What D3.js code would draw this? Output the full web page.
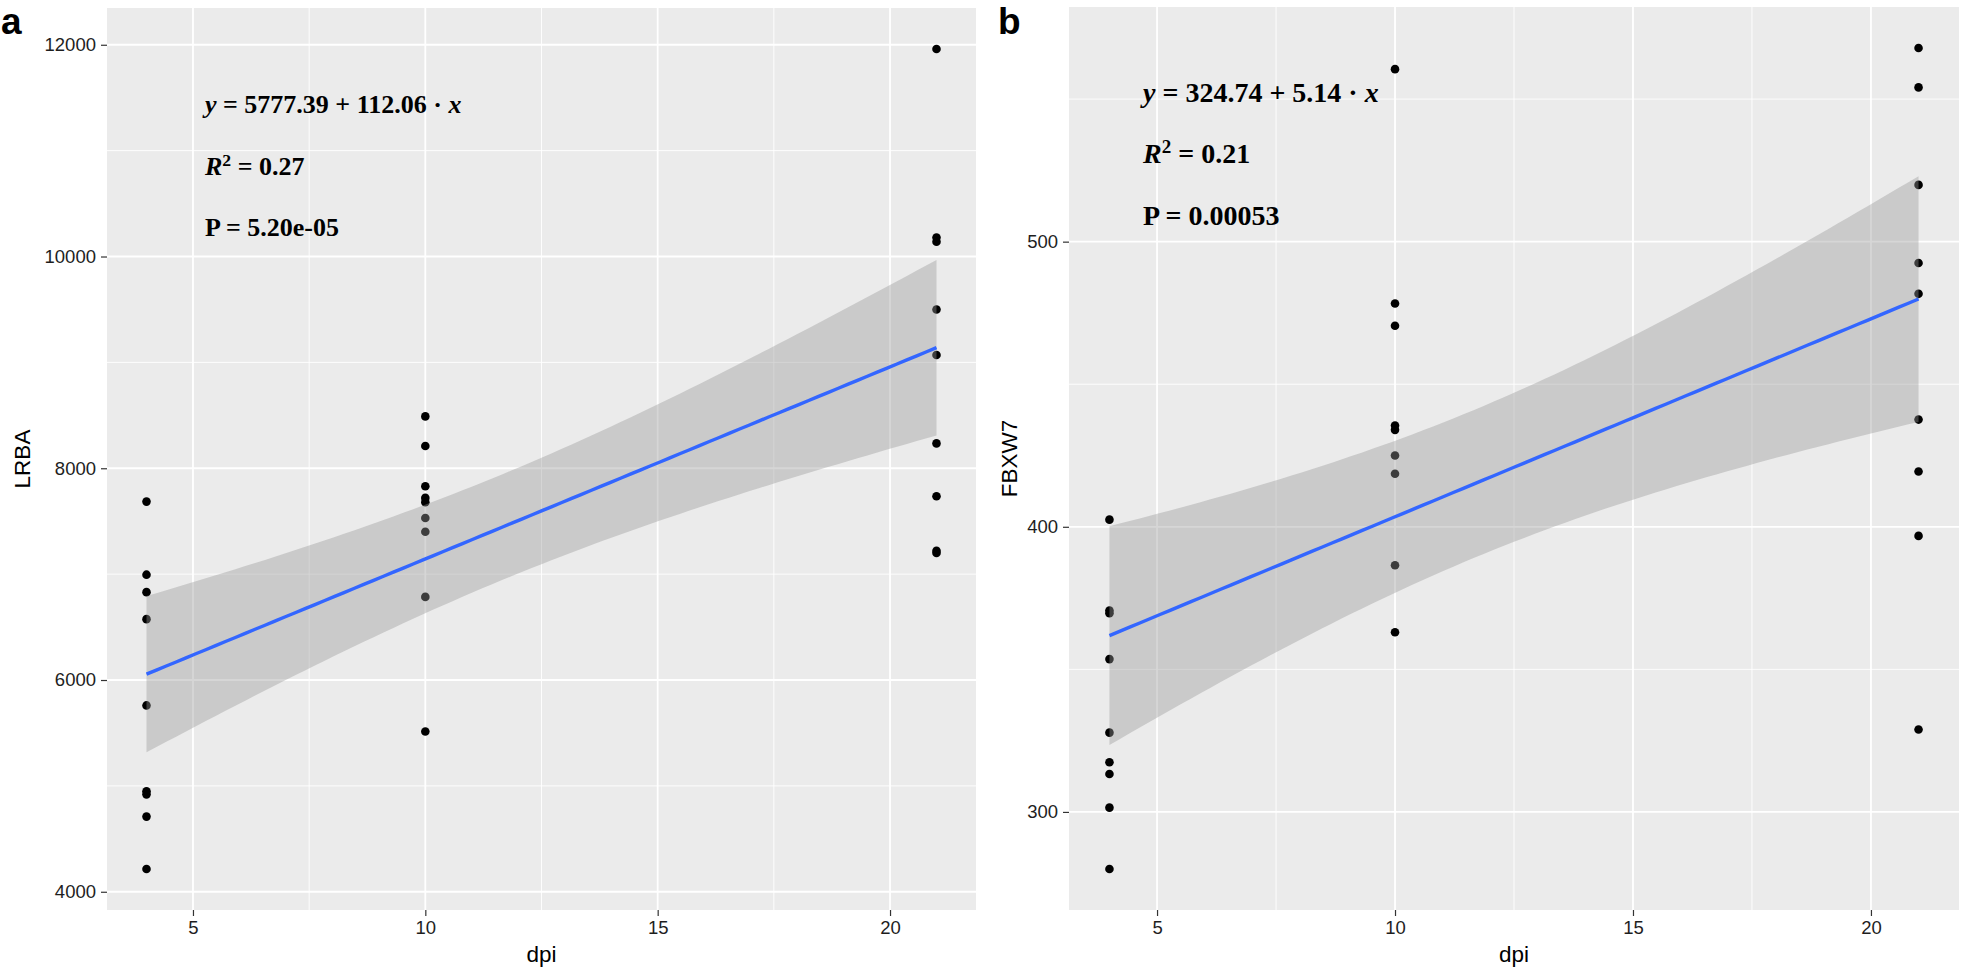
<!DOCTYPE html>
<html>
<head>
<meta charset="utf-8">
<script src="https://cdn.jsdelivr.net/npm/d3@7"></script>
<style>
  html, body { margin: 0; padding: 0; background: #fff; }
  svg { display: block; }
</style>
</head>
<body>
<svg id="chart" width="1961" height="971"></svg>
<script>
// ---------------- data ----------------
const dpi = [4,4,4,4,4,4,4,4,4, 10,10,10,10,10,10,10,10,10, 21,21,21,21,21,21,21,21,21];
const lrba = [7685,6995,6830,6575,5760,4950,4920,4710,4215,
              8490,8210,7830,7720,7680,7530,7400,6785,5513,
              11960,10180,10140,9500,9070,8235,7735,7220,7200];
const fbxw7 = [402.5,370.6,369.7,353.6,327.8,317.4,313.3,301.5,280,
               560.5,478.3,470.5,435.5,434,425,418.6,386.5,363,
               567.9,554.1,519.9,492.5,481.7,437.6,419.4,396.8,328.9];
const xTicks = [5,10,15,20];
const xMinor = [7.5,12.5,17.5];
const yTicksA = [4000,6000,8000,10000,12000];
const yMinorA = [5000,7000,9000,11000];
const yTicksB = [300,400,500];
const yMinorB = [350,450,550];
const annotA = ["5777.39 + 112.06", "0.27", "P = 5.20e-05"];
const annotB = ["324.74 + 5.14", "0.21", "P = 0.00053"];

// ---------------- helpers ----------------
function linfit(xs, ys) {
  const n = xs.length;
  const xb = d3.mean(xs), yb = d3.mean(ys);
  let sxx = 0, sxy = 0;
  for (let i = 0; i < n; i++) { sxx += (xs[i]-xb)**2; sxy += (xs[i]-xb)*(ys[i]-yb); }
  const b = sxy / sxx, a = yb - b*xb;
  let rss = 0;
  for (let i = 0; i < n; i++) rss += (ys[i] - a - b*xs[i])**2;
  const s = Math.sqrt(rss / (n-2));
  const t = 2.0595; // t(0.975, df = 25)
  const x0 = d3.min(xs), x1 = d3.max(xs);
  return d3.range(81).map(i => {
    const x = x0 + i*(x1-x0)/80;
    const f = a + b*x;
    const se = s*Math.sqrt(1/n + (x-xb)**2/sxx);
    return {x, y: f, lo: f - t*se, hi: f + t*se};
  });
}

const svg = d3.select("#chart");
svg.append("rect").attr("width",1961).attr("height",971).attr("fill","#fff");

function panel(cfg) {
  const {left,right,top,bottom,ys,yTicks,yMinor,yTitle,letter,letterX,annot,annotX,annotY,annotSize,ytitleX} = cfg;
  const fitPts = linfit(dpi, ys);
  const xExt = d3.extent(dpi);
  const xPad = (xExt[1]-xExt[0])*0.05;
  const yLo = Math.min(d3.min(ys), d3.min(fitPts, d=>d.lo));
  const yHi = Math.max(d3.max(ys), d3.max(fitPts, d=>d.hi));
  const yPad = (yHi-yLo)*0.05;
  const x = d3.scaleLinear().domain([xExt[0]-xPad, xExt[1]+xPad]).range([left,right]);
  const y = d3.scaleLinear().domain([yLo-yPad, yHi+yPad]).range([bottom,top]);

  const g = svg.append("g");
  g.append("rect").attr("x",left).attr("y",top).attr("width",right-left).attr("height",bottom-top).attr("fill","#EBEBEB");

  // minor grid
  g.selectAll(".vmin").data(xMinor).join("line")
    .attr("x1",d=>x(d)).attr("x2",d=>x(d)).attr("y1",top).attr("y2",bottom)
    .attr("stroke","#fff").attr("stroke-width",0.9);
  g.selectAll(".hmin").data(yMinor).join("line")
    .attr("x1",left).attr("x2",right).attr("y1",d=>y(d)).attr("y2",d=>y(d))
    .attr("stroke","#fff").attr("stroke-width",0.9);
  // major grid
  g.selectAll(".vmaj").data(xTicks).join("line")
    .attr("x1",d=>x(d)).attr("x2",d=>x(d)).attr("y1",top).attr("y2",bottom)
    .attr("stroke","#fff").attr("stroke-width",1.8);
  g.selectAll(".hmaj").data(yTicks).join("line")
    .attr("x1",left).attr("x2",right).attr("y1",d=>y(d)).attr("y2",d=>y(d))
    .attr("stroke","#fff").attr("stroke-width",1.8);

  // points
  g.selectAll(".pt").data(dpi.map((d,i)=>({x:d,y:ys[i]}))).join("circle")
    .attr("cx",d=>x(d.x)).attr("cy",d=>y(d.y)).attr("r",4.3).attr("fill","#000");

  // ribbon + line
  g.append("path").datum(fitPts)
    .attr("d", d3.area().x(d=>x(d.x)).y0(d=>y(d.lo)).y1(d=>y(d.hi)))
    .attr("fill","#999999").attr("fill-opacity",0.4);
  g.append("path").datum(fitPts)
    .attr("d", d3.line().x(d=>x(d.x)).y(d=>y(d.y)))
    .attr("fill","none").attr("stroke","#3366FF").attr("stroke-width",3.4);

  // axes
  const ax = g.append("g").attr("transform",`translate(0,${bottom})`)
    .call(d3.axisBottom(x).tickValues(xTicks).tickSize(6).tickPadding(5).tickFormat(d3.format("d")));
  const ay = g.append("g").attr("transform",`translate(${left},0)`)
    .call(d3.axisLeft(y).tickValues(yTicks).tickSize(6).tickPadding(5).tickFormat(d3.format("d")));
  [ax,ay].forEach(a => {
    a.select(".domain").remove();
    a.selectAll("line").attr("stroke","#333").attr("stroke-width",1.2);
    a.selectAll("text").attr("fill","#1e1e1e").style("font-family","'Liberation Sans', Arial, sans-serif").style("font-size","18.5px");
  });

  // titles
  g.append("text").attr("x",(left+right)/2).attr("y",962).attr("text-anchor","middle")
    .style("font-family","'Liberation Sans', Arial, sans-serif").style("font-size","22.5px").attr("fill","#000").text("dpi");
  g.append("text").attr("transform",`translate(${ytitleX},${(top+bottom)/2}) rotate(-90)`).attr("text-anchor","middle")
    .style("font-family","'Liberation Sans', Arial, sans-serif").style("font-size","22.5px").attr("fill","#000").text(yTitle);
  g.append("text").attr("x",letterX).attr("y",34)
    .style("font-family","'Liberation Sans', Arial, sans-serif").style("font-size","37px").style("font-weight","bold").attr("fill","#000").text(letter);

  // annotations
  const tf = t => t.style("font-family","'Liberation Serif', 'Times New Roman', serif").style("font-weight","bold").style("font-size",annotSize+"px").attr("fill","#000");
  const t1 = g.append("text").attr("x",annotX).attr("y",annotY[0]).call(tf);
  t1.append("tspan").style("font-style","italic").text("y");
  t1.append("tspan").text(" = " + annot[0] + " · ");
  t1.append("tspan").style("font-style","italic").text("x");
  const t2 = g.append("text").attr("x",annotX).attr("y",annotY[1]).call(tf);
  t2.append("tspan").style("font-style","italic").text("R");
  t2.append("tspan").attr("dy",-annotSize*0.34).style("font-size",(annotSize*0.68)+"px").text("2");
  t2.append("tspan").attr("dy",annotSize*0.34).text(" = " + annot[1]);
  g.append("text").attr("x",annotX).attr("y",annotY[2]).call(tf).text(annot[2]);
}

panel({left:107,right:976,top:8,bottom:910,ys:lrba,yTicks:yTicksA,yMinor:yMinorA,yTitle:"LRBA",
  letter:"a",letterX:1,annot:annotA,annotX:205,annotY:[113,175,236],annotSize:26,ytitleX:30});
panel({left:1069,right:1959,top:7,bottom:910,ys:fbxw7,yTicks:yTicksB,yMinor:yMinorB,yTitle:"FBXW7",
  letter:"b",letterX:998,annot:annotB,annotX:1143,annotY:[102,163,225],annotSize:28,ytitleX:1017});
</script>
</body>
</html>
